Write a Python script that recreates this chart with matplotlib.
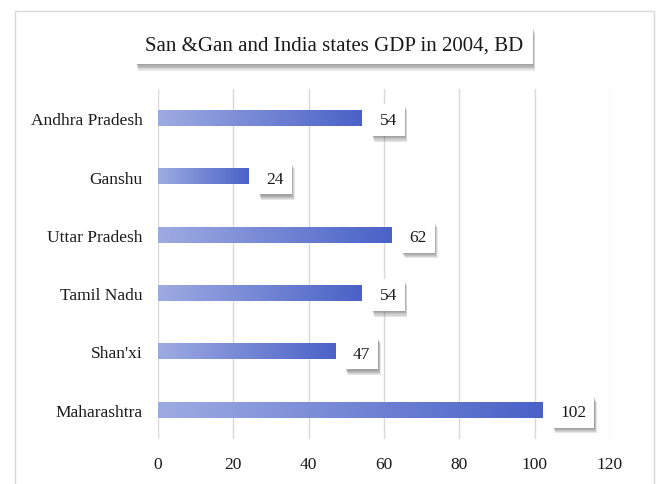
import matplotlib
matplotlib.use("Agg")
import matplotlib.pyplot as plt
import matplotlib.patheffects as pe
from matplotlib.patches import Rectangle
import numpy as np

plt.rcParams['font.family'] = ['Liberation Serif', 'DejaVu Serif']

categories = ["Andhra Pradesh", "Ganshu", "Uttar Pradesh", "Tamil Nadu", "Shan'xi", "Maharashtra"]
values = [54, 24, 62, 54, 47, 102]
xticks = [0, 20, 40, 60, 80, 100, 120]
title = "San &Gan and India states GDP in 2004, BD"

W, H = 660, 485
fig = plt.figure(figsize=(W / 100, H / 100), dpi=100)
fig.patch.set_facecolor('white')


def soft_shadow(dx, dy, n=5, alpha=0.12):
    effects = []
    for i in range(n, 0, -1):
        f = i / n
        effects.append(pe.SimplePatchShadow(offset=(dx * f, dy * f), shadow_rgbFace='#404040', alpha=alpha))
    effects.append(pe.Normal())
    return effects


# outer frame with shadow
frame = Rectangle((15 / W, -0.05), (654 - 15) / W, 1.05 - 12 / H, transform=fig.transFigure,
                  facecolor='white', edgecolor='#d9d9d9', linewidth=1.0, zorder=-10)
frame.set_path_effects([pe.SimplePatchShadow(offset=(0, -1), shadow_rgbFace='#999999', alpha=0.4),
                        pe.Normal()])
fig.patches.append(frame)

ax = fig.add_axes([158 / W, 1 - 440 / H, (610 - 158) / W, (440 - 90) / H])
ax.set_facecolor('none')
ax.set_zorder(1)

ypos = np.arange(len(categories))[::-1]
bars = ax.barh(ypos, values, height=0.27, color='none', edgecolor='none', zorder=3)

grad = np.linspace(0, 1, 256).reshape(1, -1)
cmap = matplotlib.colors.LinearSegmentedColormap.from_list('g', ['#9eabe2', '#4a62c8'])
for b in bars:
    x0, y0 = b.get_x(), b.get_y()
    w, h = b.get_width(), b.get_height()
    ax.imshow(grad, extent=(x0, x0 + w, y0, y0 + h), aspect='auto', cmap=cmap,
              zorder=3, interpolation='bilinear')

for b, v in zip(bars, values):
    t = ax.annotate(str(v), xy=(b.get_width(), b.get_y() + b.get_height() / 2),
                    xytext=(13, -1.5), textcoords='offset points', ha='left', va='center',
                    fontsize=12.5, color='#1a1a1a', zorder=5,
                    bbox=dict(boxstyle='square,pad=0.45', facecolor='white', edgecolor='none'))
    t.get_bbox_patch().set_path_effects(soft_shadow(2, -4))

ax.set_xlim(0, 120)
ax.set_ylim(-0.5, len(categories) - 0.5)
ax.set_xticks(xticks)
ax.set_xticklabels([str(x) for x in xticks], fontsize=12.5, color='#1a1a1a')
ax.set_yticks(ypos)
ax.set_yticklabels(categories, fontsize=12.5, color='#1a1a1a')
ax.tick_params(axis='both', length=0)
ax.tick_params(axis='x', pad=12)
ax.tick_params(axis='y', pad=11)
ax.grid(axis='x', color='#d9d9d9', linewidth=1.0, zorder=0)
ax.set_axisbelow(True)
for s in ax.spines.values():
    s.set_visible(False)

tt = fig.text(334 / W, 1 - 46 / H, title, ha='center', va='center', fontsize=15,
              color='#1a1a1a', zorder=5,
              bbox=dict(boxstyle='square,pad=0.45', facecolor='white', edgecolor='none'))
tt.get_bbox_patch().set_path_effects(soft_shadow(2, -5))

fig.savefig('out.png', dpi=100, facecolor='white')
